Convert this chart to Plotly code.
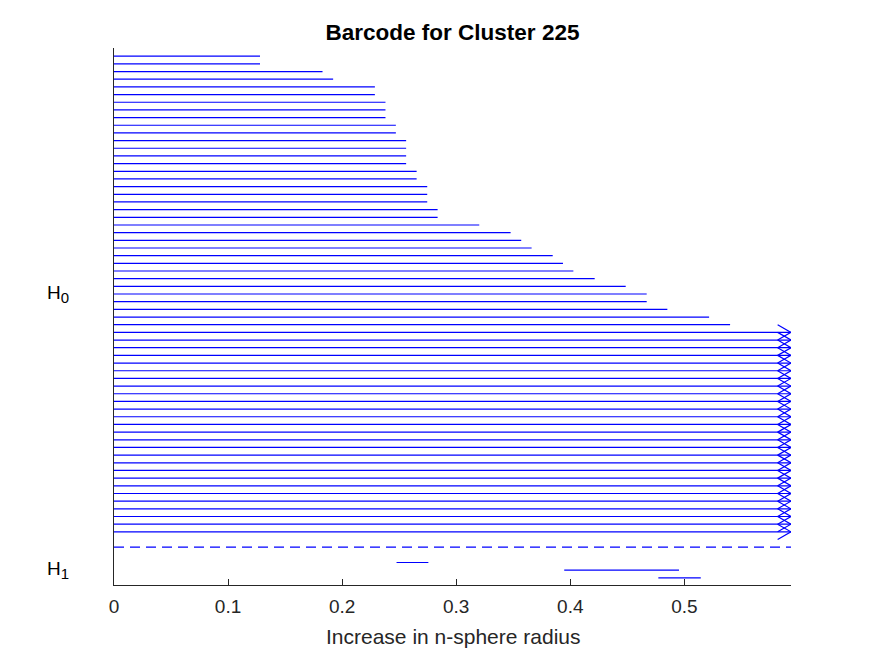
import plotly.graph_objects as go

# H0 bars that die (death radius), top to bottom
h0_deaths = [0.128, 0.128, 0.1828, 0.1921, 0.2287, 0.2287, 0.238, 0.238, 0.238,
             0.2471, 0.2471, 0.2561, 0.2561, 0.2561, 0.2561, 0.2653, 0.2653,
             0.2746, 0.2746, 0.2746, 0.2837, 0.2837, 0.3202, 0.3477, 0.357,
             0.3661, 0.3846, 0.3936, 0.4027, 0.4214, 0.4486, 0.467, 0.467,
             0.4851, 0.5217, 0.5401]
n_infinite = 27          # H0 bars that never die
x_max = 0.5935

# H1 bars (birth, death)
h1_births = [0.2477, 0.3947, 0.4772]
h1_deaths = [0.2756, 0.4953, 0.5144]

blue = "#0000ff"
fig = go.Figure()

# H0 finite bars
bx, by = [], []
row = 0
for d in h0_deaths:
    bx += [0, d, None]
    by += [row, row, None]
    row += 1

# H0 infinite bars with arrow heads
ax, ay = [], []
arrow = 0.0117
for i in range(n_infinite):
    bx += [0, x_max, None]
    by += [row, row, None]
    ax += [x_max - arrow, x_max, x_max - arrow, None]
    ay += [row - 1, row, row + 1, None]
    row += 1

n_h0 = row
sep = n_h0 + 1

# H1 bars
row = sep + 2
for b, d in zip(h1_births, h1_deaths):
    bx += [b, d, None]
    by += [row, row, None]
    row += 1

fig.add_trace(go.Scatter(x=bx, y=by, mode="lines",
                         line=dict(color=blue, width=1.2), hoverinfo="skip"))
fig.add_trace(go.Scatter(x=ax, y=ay, mode="lines",
                         line=dict(color=blue, width=1.2), hoverinfo="skip"))
fig.add_trace(go.Scatter(x=[0, x_max], y=[sep, sep], mode="lines",
                         line=dict(color=blue, width=1.2, dash="10px,6px"),
                         hoverinfo="skip"))

# page body adds 8px margin, so the figure is 8px smaller and shifted
W, H = 867, 648
font = "Arial, Liberation Sans, sans-serif"
sub = "<sub><span style='font-size:15px'>%s</span></sub>"
fig.update_layout(
    width=W, height=H,
    margin=dict(l=106, r=84, t=40, b=71),
    paper_bgcolor="white", plot_bgcolor="white",
    showlegend=False,
    font=dict(family=font, color="#262626"),
    title=dict(text="<b>Barcode for Cluster 225</b>", x=0.5, xref="paper",
               xanchor="center", y=1 - 24 / H, yanchor="middle", yref="container",
               font=dict(size=22.5, color="black", family=font)),
    xaxis=dict(range=[0, x_max], showgrid=False, zeroline=False,
               showline=True, linecolor="#262626", linewidth=1,
               ticks="inside", ticklen=6, tickcolor="#262626",
               ticklabelstandoff=4,
               tickvals=[0, 0.1, 0.2, 0.3, 0.4, 0.5],
               ticktext=["0", "0.1", "0.2", "0.3", "0.4", "0.5"],
               tickfont=dict(size=19, color="#262626")),
    yaxis=dict(range=[sep + 4.93, -1.07], showgrid=False, zeroline=False,
               showline=True, linecolor="#262626", linewidth=1,
               showticklabels=False, ticks=""),
    annotations=[
        dict(text="Increase in n-sphere radius", xref="paper", yref="paper",
             x=0.5, y=-(636 - 585) / 537, xanchor="center", yanchor="middle",
             showarrow=False, font=dict(size=21, color="#262626")),
        dict(text="H" + sub % "0", xref="paper", yref="y", x=0, y=(n_h0 - 1) / 2,
             xanchor="right", yanchor="middle", xshift=-43, showarrow=False,
             font=dict(size=19, color="black")),
        dict(text="H" + sub % "1", xref="paper", yref="y", x=0, y=sep + 3,
             xanchor="right", yanchor="middle", xshift=-43, showarrow=False,
             font=dict(size=19, color="black")),
    ],
)

fig.write_html("out.html")
